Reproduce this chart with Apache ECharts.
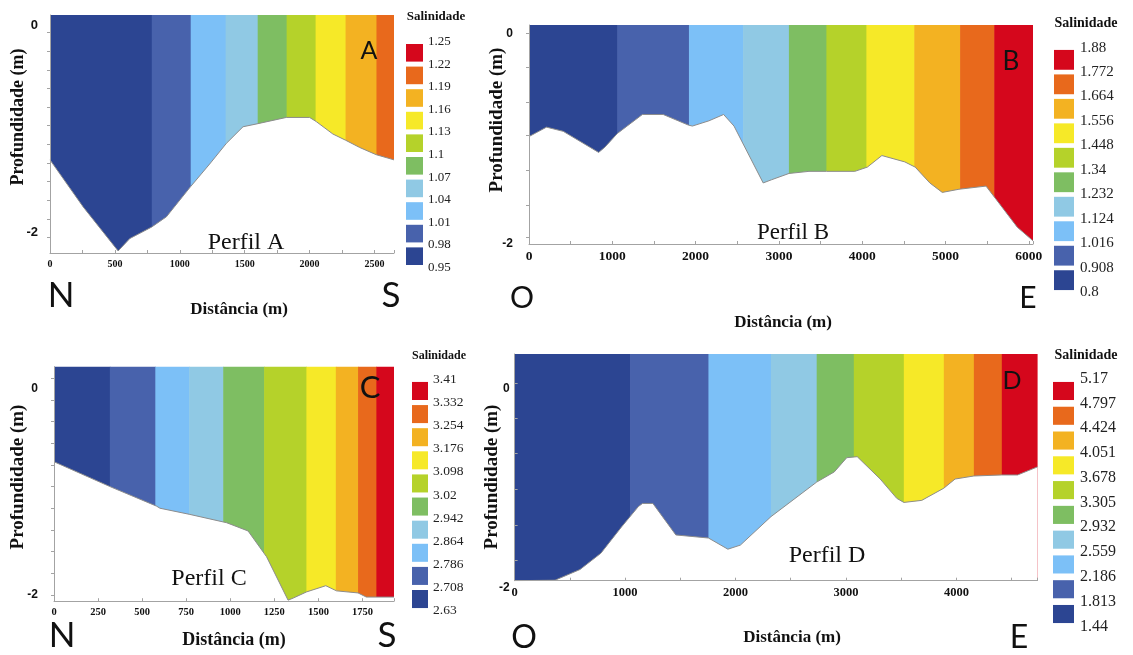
<!DOCTYPE html>
<html lang="pt">
<head>
<meta charset="UTF-8">
<title>Perfis de salinidade</title>
<script src="https://cdn.jsdelivr.net/npm/echarts@6.0.0/dist/echarts.min.js"></script>
<style>
html, body { margin: 0; padding: 0; background: #fff; }
#main { width: 1133px; height: 655px; }
</style>
</head>
<body>
<div id="main"></div>
<script>
// classes de salinidade, da menor para a maior
var cores = ['#2C4592', '#4862AC', '#7CC0F7', '#90C9E4', '#7EBE62', '#B5D22A', '#F6E928', '#F3B222', '#E8691C', '#D5071C'];

// Perfil A (N - S)
var faixasA = [0, 784, 1084, 1353, 1600, 1823, 2046, 2277, 2515, 2650];
var distA = [0, 256, 525, 615, 782, 897, 1082, 1230, 1359, 1487, 1602, 1820, 2000, 2051, 2179, 2277, 2385, 2513, 2650];
var profA = [-1.30, -1.755, -2.18, -2.06, -1.95, -1.85, -1.56, -1.34, -1.14, -0.98, -0.95, -0.89, -0.89, -0.93, -1.05, -1.11, -1.18, -1.25, -1.30];
var legA = ['0.95', '0.98', '1.01', '1.04', '1.07', '1.1', '1.13', '1.16', '1.19', '1.22', '1.25'];
var xLabA = [0, 500, 1000, 1500, 2000, 2500];
var yTickA = [-0.07, -0.25, -0.43, -0.61, -0.79, -0.97, -1.15, -1.33, -1.51, -1.69, -1.87, -2.05];

// Perfil B (O - E)
var faixasB = [0, 1060, 1920, 2570, 3120, 3570, 4050, 4625, 5175, 5585, 6050];
var distB = [0, 210, 411, 836, 911, 1061, 1361, 1611, 1911, 1961, 2160, 2336, 2461, 2811, 2911, 3121, 3361, 3571, 3911, 4061, 4236, 4511, 4636, 4811, 4961, 5161, 5486, 5611, 5861, 6050];
var profB = [-0.98, -0.89, -0.93, -1.13, -1.08, -0.95, -0.77, -0.77, -0.87, -0.88, -0.83, -0.77, -0.88, -1.42, -1.39, -1.33, -1.31, -1.31, -1.31, -1.27, -1.16, -1.22, -1.27, -1.42, -1.51, -1.48, -1.45, -1.58, -1.84, -1.97];
var legB = ['0.8', '0.908', '1.016', '1.124', '1.232', '1.34', '1.448', '1.556', '1.664', '1.772', '1.88'];
var xLabB = [0, 1000, 2000, 3000, 4000, 5000, 6000];
var yTickB = [0, -0.32, -0.65, -0.97, -1.30, -1.63, -1.94];

// Perfil C (N - S)
var faixasC = [0, 317, 575, 767, 960, 1192, 1432, 1599, 1725, 1829, 1929];
var distC = [0, 317, 582, 601, 771, 979, 1101, 1206, 1328, 1357, 1433, 1542, 1603, 1725, 1772, 1929];
var profC = [-0.71, -0.95, -1.14, -1.16, -1.22, -1.30, -1.38, -1.63, -2.05, -2.03, -1.97, -1.91, -1.96, -1.98, -2.02, -2.02];
var legC = ['2.63', '2.708', '2.786', '2.864', '2.942', '3.02', '3.098', '3.176', '3.254', '3.332', '3.41'];
var xLabC = [0, 250, 500, 750, 1000, 1250, 1500, 1750];
var yTickC = [0.1, -0.11, -0.32, -0.53, -0.74, -0.95, -1.16, -1.37, -1.58, -1.79, -2.0];

// Perfil D (O - E)
var faixasD = [0, 1045, 1755, 2321, 2735, 3071, 3524, 3886, 4158, 4411, 4735];
var distD = [0, 366, 592, 781, 969, 1121, 1158, 1252, 1460, 1755, 1931, 2044, 2321, 2735, 2894, 3007, 3102, 3310, 3460, 3524, 3686, 3886, 3988, 4158, 4411, 4554, 4735];
var profD = [-1.89, -1.885, -1.78, -1.62, -1.36, -1.16, -1.13, -1.13, -1.44, -1.47, -1.58, -1.54, -1.26, -0.92, -0.82, -0.68, -0.67, -0.89, -1.08, -1.12, -1.10, -0.98, -0.89, -0.86, -0.85, -0.85, -0.77];
var legD = ['1.44', '1.813', '2.186', '2.559', '2.932', '3.305', '3.678', '4.051', '4.424', '4.797', '5.17'];
var xLabD = [0, 1000, 2000, 3000, 4000];
var yTickD = [0.05, -0.29, -0.64, -0.99, -1.34, -1.69];

var grids = [], xAxes = [], yAxes = [], series = [];
var eixo = '#a3a3a3';

function faixa(yTopo, yBase, xFim) {
    return function (params, api) {
        var p0 = api.coord([api.value(0), yTopo]);
        var p1 = api.coord([api.value(1), yBase]);
        var extra = api.value(1) < xFim ? 0.6 : 0;
        return {
            type: 'rect',
            shape: { x: p0[0], y: p0[1], width: p1[0] - p0[0] + extra, height: p1[1] - p0[1] - 0.5 },
            style: { fill: cores[api.value(2)] }
        };
    };
}

function painel(p) {
    var g = grids.length;
    grids.push({ left: p.grid[0], top: p.grid[1], width: p.grid[2], height: p.grid[3], containLabel: false, outerBoundsMode: 'none' });
    var xi = xAxes.length, yi = yAxes.length;
    xAxes.push({
        type: 'value', gridIndex: g, min: 0, max: p.xMax, interval: p.xStep, z: 10,
        splitLine: { show: false },
        axisLine: { onZero: false, lineStyle: { color: eixo } },
        axisTick: { inside: true, length: 3, lineStyle: { color: eixo } },
        axisLabel: {
            customValues: p.xLab, color: '#111', fontFamily: 'Liberation Serif', fontWeight: 'bold', fontSize: p.xFont, margin: 6,
            formatter: function (v) { return String(v); }
        }
    });
    yAxes.push({
        type: 'value', gridIndex: g, min: p.yMin, max: p.yMax, z: 10,
        splitLine: { show: false },
        axisLine: { show: true, onZero: false, lineStyle: { color: eixo } },
        axisTick: { show: true, customValues: p.yTicks, inside: p.yIn, length: 3, lineStyle: { color: eixo } },
        axisLabel: {
            customValues: [0, p.yLow], margin: p.yMargin,
            color: '#111', fontFamily: 'Liberation Sans', fontWeight: 'bold', fontSize: p.yFont, lineHeight: 13,
            formatter: function (v) { return Math.abs(v) < 1e-9 ? '0' : p.yLowTxt; }
        }
    });
    var dados = [];
    for (var i = 0; i < p.faixas.length - 1; i++) dados.push([p.faixas[i], p.faixas[i + 1], i]);
    series.push({
        type: 'custom', xAxisIndex: xi, yAxisIndex: yi, silent: true, z: 1,
        renderItem: faixa(p.yMax, p.yMin, p.xMax), encode: { x: [0, 1] }, data: dados
    });
    series.push({
        type: 'line', xAxisIndex: xi, yAxisIndex: yi, silent: true, z: 2,
        symbol: 'none',
        lineStyle: { color: '#8c8c8c', width: 1 },
        areaStyle: { color: '#fff', opacity: 1, origin: 'start' },
        data: p.dist.map(function (d, k) { return [d, p.prof[k]]; })
    });

    // legenda de salinidade
    var gl = grids.length;
    grids.push({ left: p.leg[0], top: p.leg[1], width: p.leg[2], height: p.leg[3], containLabel: false, outerBoundsMode: 'none' });
    var xl = xAxes.length;
    xAxes.push({ type: 'value', gridIndex: gl, min: 0, max: 1, show: false });
    var yc = yAxes.length;
    yAxes.push({ type: 'category', gridIndex: gl, data: p.legTxt.slice(0, 10), show: false });
    yAxes.push({
        type: 'value', gridIndex: gl, min: 0, max: 10, interval: 1, position: 'right',
        axisLine: { show: false }, axisTick: { show: false }, splitLine: { show: false },
        axisLabel: {
            margin: p.legMargin, color: '#222', fontFamily: 'Liberation Serif', fontSize: p.legFont,
            formatter: function (v) { return p.legTxt[Math.round(v)]; }
        }
    });
    series.push({
        type: 'bar', xAxisIndex: xl, yAxisIndex: yc, silent: true,
        barCategoryGap: p.legGap,
        data: cores.map(function (c) { return { value: 1, itemStyle: { color: c } }; })
    });
}

painel({
    grid: [50, 15, 344, 238], xMax: 2650, xStep: 250, xLab: xLabA, xFont: 10,
    yMin: -2.2, yMax: 0.1, yTicks: yTickA, yIn: false, yLow: -2, yLowTxt: '-2', yMargin: 12, yFont: 13,
    faixas: faixasA, dist: distA, prof: profA,
    leg: [406, 41.5, 17, 226], legTxt: legA, legFont: 13, legMargin: 5, legGap: '22%'
});
painel({
    grid: [529, 25, 504, 219], xMax: 6050, xStep: 500, xLab: xLabB, xFont: 13.5,
    yMin: -2, yMax: 0.08, yTicks: yTickB, yIn: false, yLow: -2, yLowTxt: '-2', yMargin: 16, yFont: 12,
    faixas: faixasB, dist: distB, prof: profB,
    leg: [1054, 47.6, 20, 244.8], legTxt: legB, legFont: 15, legMargin: 6, legGap: '19%'
});
painel({
    grid: [54, 366.7, 340, 234.5], xMax: 1929, xStep: 250, xLab: xLabC, xFont: 10.5,
    yMin: -2.06, yMax: 0.21, yTicks: yTickC, yIn: false, yLow: -2, yLowTxt: '-2', yMargin: 16, yFont: 12,
    faixas: faixasC, dist: distC, prof: profC,
    leg: [412, 379.4, 16, 231.2], legTxt: legC, legFont: 13.5, legMargin: 5, legGap: '22%'
});
painel({
    grid: [514.6, 354, 523, 226.7], xMax: 4735, xStep: 500, xLab: xLabD, xFont: 12.5,
    yMin: -1.89, yMax: 0.34, yTicks: yTickD, yIn: true, yLow: -1.89, yLowTxt: '\n-2', yMargin: 5, yFont: 12,
    faixas: faixasD, dist: distD, prof: profD,
    leg: [1053, 378.6, 21, 247.8], legTxt: legD, legFont: 16, legMargin: 6, legGap: '27%'
});

// textos: [texto, x, y, tamanho, família, peso, vertical]
var serifB = 'Liberation Serif';
var textos = [
    ['Salinidade', 436, 17, 13, serifB, 'bold'],
    ['Profundidade (m)', 18, 117, 18, serifB, 'bold', true],
    ['Distância (m)', 239, 310, 17, serifB, 'bold'],
    ['Perfil A', 246, 243, 24, serifB, 'normal'],
    ['A', 369, 51, 25, 'Lato', 'normal'],
    ['N', 61, 296, 35, 'Lato', 'normal'],
    ['S', 391, 296, 35, 'Lato', 'normal'],

    ['Salinidade', 1086, 23, 14, serifB, 'bold'],
    ['Profundidade (m)', 497, 120, 19, serifB, 'bold', true],
    ['Distância (m)', 783, 323, 17, serifB, 'bold'],
    ['Perfil B', 793, 233, 23, serifB, 'normal'],
    ['B', 1011, 62, 26, 'Lato', 'normal'],
    ['O', 522, 298, 30, 'Lato', 'normal'],
    ['E', 1028, 298, 30, 'Lato', 'normal'],

    ['Salinidade', 439, 356, 12, serifB, 'bold'],
    ['Profundidade (m)', 18, 477, 19, serifB, 'bold', true],
    ['Distância (m)', 234, 640, 18, serifB, 'bold'],
    ['Perfil C', 209, 579, 24, serifB, 'normal'],
    ['C', 370, 388, 31, 'Lato', 'normal'],
    ['N', 62, 636, 35, 'Lato', 'normal'],
    ['S', 387, 636, 35, 'Lato', 'normal'],

    ['Salinidade', 1086, 355, 14, serifB, 'bold'],
    ['Profundidade (m)', 492, 477, 19, serifB, 'bold', true],
    ['Distância (m)', 792, 638, 17, serifB, 'bold'],
    ['Perfil D', 827, 556, 24, serifB, 'normal'],
    ['D', 1012, 381, 25, 'Lato', 'normal'],
    ['O', 524, 638, 32, 'Lato', 'normal'],
    ['E', 1019, 638, 32, 'Lato', 'normal']
];

var chart = echarts.init(document.getElementById('main'));
chart.setOption({
    animation: false,
    backgroundColor: '#fff',
    grid: grids,
    xAxis: xAxes,
    yAxis: yAxes,
    series: series,
    graphic: textos.map(function (t) {
        return {
            type: 'text', x: t[1], y: t[2], z: 100,
            rotation: t[6] ? Math.PI / 2 : 0,
            style: {
                text: t[0], fontSize: t[3], fontFamily: t[4], fontWeight: t[5],
                fill: '#111', align: 'center', verticalAlign: 'middle'
            }
        };
    })
});
</script>
</body>
</html>
